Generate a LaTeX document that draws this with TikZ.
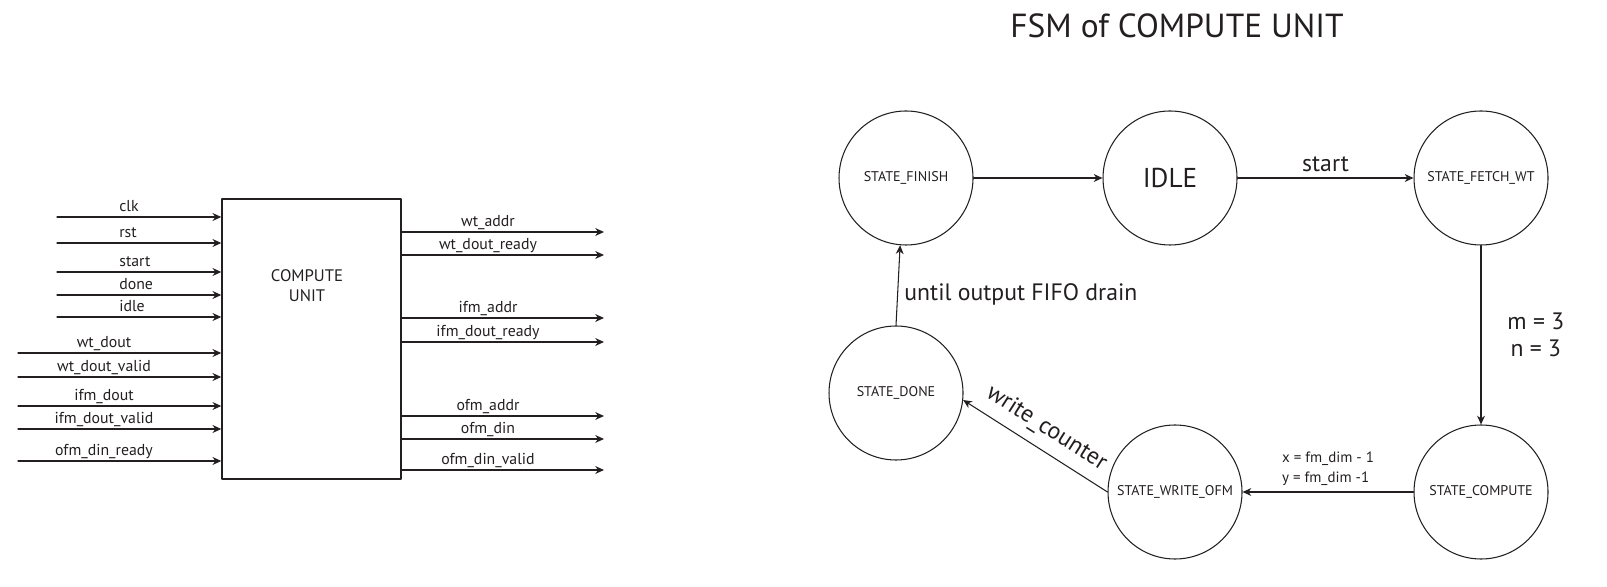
\documentclass[tikz,border=0pt]{standalone}
\usepackage{fontspec}
\setmainfont{PT Sans}
\usetikzlibrary{arrows.meta}

\definecolor{ink}{HTML}{231F20}

\tikzset{
    state/.style={circle,draw,line width=0.6pt,minimum size=2.68cm,inner sep=0pt,font=\fontsize{8}{10}\selectfont},
    port/.style={->,line width=0.6pt},
    portlabel/.style={inner sep=0pt,font=\fontsize{9}{11}\selectfont},
    edgelabel/.style={font=\fontsize{13.5}{15.5}\selectfont}
}

\begin{document}
\begin{tikzpicture}[line cap=round,line join=round,>={Stealth[length=5pt,width=4.5pt]},x=1cm,y=1cm,color=ink]
    \useasboundingbox (0,0) rectangle (32.14,11.72);

    % Block and its ports
    \draw(6.23,4.94) node[draw,line width=0.8pt,minimum width=3.58cm,minimum height=5.6cm] (CU) {};
    \draw(6.14,6.0) node[align=center,font=\fontsize{9.5}{11.5}\selectfont] (CUtxt) {COMPUTE\\UNIT};

    \foreach \name/\yy/\txt in {clk/7.38/clk, rst/6.86/rst, start/6.28/start, done/5.82/done, idle/5.38/idle} {
            \coordinate (in-\name) at (1.14,\yy);
            \draw[port] (in-\name) -- (in-\name -| CU.west);
            \node[portlabel,anchor=base west] (lbl-\name) at (2.38,\yy+0.1) {\txt};
        }
    \foreach \name/\yy/\txt in {wtd/4.66/wt\_dout, wtdv/4.18/wt\_dout\_valid, ifmd/3.60/ifm\_dout, ifmdv/3.14/ifm\_dout\_valid, ofmdr/2.50/ofm\_din\_ready} {
            \coordinate (in-\name) at (0.36,\yy);
            \draw[port] (in-\name) -- (in-\name -| CU.west);
            \node[portlabel,anchor=base] (lbl-\name) at (2.08,\yy+0.1) {\txt};
        }
    \foreach \name/\yy/\txt in {wta/7.08/wt\_addr, wtdr/6.62/wt\_dout\_ready, ifma/5.36/ifm\_addr, ifmdr/4.88/ifm\_dout\_ready, ofma/3.40/ofm\_addr, ofmd/2.94/ofm\_din, ofmdv/2.32/ofm\_din\_valid} {
            \coordinate (out-\name) at (12.08,\yy);
            \draw[port] (out-\name -| CU.east) -- (out-\name);
            \node[portlabel,anchor=base] (lbl-\name) at (9.76,\yy+0.1) {\txt};
        }

    % FSM
    \draw(23.54,11.2) node[font=\fontsize{19}{23}\selectfont] (title) {FSM of COMPUTE UNIT};

    \draw(18.12,8.16) node[state] (FINISH) {STATE\_FINISH};
    \draw(23.40,8.16) node[state,font=\fontsize{15.5}{18}\selectfont] (IDLE) {IDLE};
    \draw(29.62,8.16) node[state] (FETCH) {STATE\_FETCH\_WT};
    \draw(29.62,1.88) node[state] (COMPUTE) {STATE\_COMPUTE};
    \draw(23.50,1.88) node[state] (WRITE) {STATE\_WRITE\_OFM};
    \draw(17.92,3.86) node[state] (DONE) {STATE\_DONE};

    % Transitions
    \draw[port] (FINISH) -- (IDLE);
    \draw[port] (IDLE) -- node[above,edgelabel] (lbl-start) {start} (FETCH);
    \draw[port] (FETCH) -- node[right=0.4cm,edgelabel,align=center] (lbl-mn) {m = 3\\n = 3} (COMPUTE);
    \draw[port] (COMPUTE) -- node[above,align=left,font=\fontsize{8.5}{11.4}\selectfont] (lbl-xy) {x = fm\_dim - 1\\y = fm\_dim -1} (WRITE);
    \draw[port] (WRITE.west) -- node[sloped,above=2pt,edgelabel] (lbl-wc) {write\_counter} (DONE.-6);
    \draw[port] (DONE.north) -- node[right,yshift=-0.18cm,edgelabel] (lbl-drain) {until output FIFO drain} (FINISH.-95);
\end{tikzpicture}
\end{document}
